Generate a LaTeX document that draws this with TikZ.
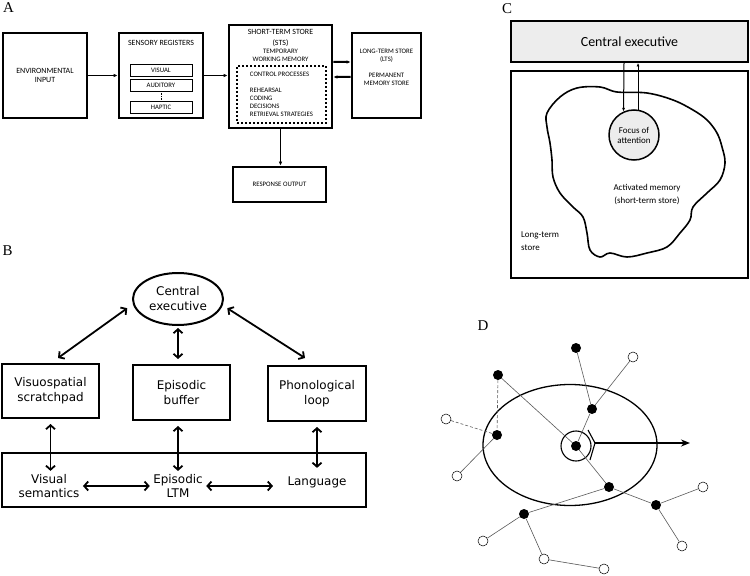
\documentclass[tikz,border=0pt]{standalone}
\usepackage{fontspec}
\setmainfont{Liberation Serif}
\newfontfamily\calibrifont{Carlito}
\newfontfamily\verdanafont{DejaVu Sans}
\usetikzlibrary{arrows,arrows.meta,positioning,shapes.geometric}

\begin{document}
\begin{tikzpicture}[x=1bp,y=-1bp,line join=miter,
    panel/.style={font=\fontsize{15}{15}\selectfont,inner sep=0},
    abox/.style={draw,line width=2.8bp,fill=white,inner sep=0,align=center,font=\calibrifont\fontsize{8}{9.5}\selectfont},
    subbox/.style={draw,line width=0.6bp,minimum width=62bp,minimum height=12bp,inner sep=0,font=\calibrifont\fontsize{6.8}{7}\selectfont},
    atext/.style={align=center,inner sep=0,font=\calibrifont\fontsize{6.8}{8}\selectfont},
    aflow/.style={-{Latex[length=4bp,width=3.6bp]},line width=1.2bp},
    cbox/.style={draw,line width=1.8bp,minimum width=237bp},
    ctext/.style={align=center,inner sep=0,font=\calibrifont\fontsize{9}{12.5}\selectfont},
    cflow/.style={-{Latex[length=3.5bp,width=3bp]},line width=1bp},
    bbox/.style={draw,line width=2bp,inner sep=0,align=center,font=\verdanafont\fontsize{12}{15}\selectfont},
    btext/.style={align=center,font=\verdanafont\fontsize{12}{14}\selectfont},
    bflow/.style={{Straight Barb[length=4bp,width=9bp,line width=1.8bp]}-{Straight Barb[length=4bp,width=9bp,line width=1.8bp]},line width=1.8bp},
    dot/.style={circle,fill=black,inner sep=0,minimum size=10bp},
    odot/.style={circle,draw,fill=white,line width=0.5bp,inner sep=0,minimum size=10bp},
    link/.style={draw=black!65,line width=0.6bp},
  ]
  \useasboundingbox (0,0) rectangle (750,576);

  \node[panel] (la) at (8.5,8) {A};
  \node[panel] (lb) at (7.5,250.5) {B};
  \node[panel] (lc) at (507,8.5) {C};
  \node[panel] (ld) at (483,326) {D};

  \node[abox,minimum width=84bp,minimum height=85bp] (env) at (45,75.5) {ENVIRONMENTAL\\INPUT};
  \node[abox,minimum width=84bp,minimum height=85bp] (sens) at (161,75.5) {};
  \node[atext,font=\calibrifont\fontsize{8}{9}\selectfont,below=8.5bp of sens.north] (senstitle) {SENSORY REGISTERS};
  \node[subbox] (visual)   at (161,70)  {VISUAL};
  \node[subbox] (auditory) at (161,85)  {AUDITORY};
  \node[subbox] (haptic)   at (161,107) {HAPTIC};
  \draw[densely dotted,line width=0.6bp] (auditory) -- (haptic);

  \node[abox,minimum width=103bp,minimum height=103bp] (sts) at (280.5,76.5) {};
  \node[atext,font=\calibrifont\fontsize{8}{11}\selectfont,below=5.5bp of sts.north] (ststitle) {SHORT-TERM STORE\\(STS)};
  \node[atext,below=2bp of ststitle] (stswork) {TEMPORARY\\WORKING MEMORY};
  \node[draw,line width=1.8bp,dash pattern=on 2bp off 2bp,minimum width=89bp,minimum height=57bp,
        inner sep=0,align=left,font=\calibrifont\fontsize{6.8}{8}\selectfont] (control) at (281.5,94.5)
        {CONTROL PROCESSES\\[8bp]REHEARSAL\\CODING\\DECISIONS\\RETRIEVAL STRATEGIES};

  \node[abox,minimum width=69bp,minimum height=85bp] (lts) at (386.5,75.5) {};
  \node[atext] (ltstext) at (386.5,67) {LONG-TERM STORE\\(LTS)\\[8bp]PERMANENT\\MEMORY STORE};
  \node[abox,minimum width=93bp,minimum height=35bp,font=\calibrifont\fontsize{6.8}{8}\selectfont] (resp) at (279.5,184.5) {RESPONSE OUTPUT};

  \draw[aflow] (env) -- (sens);
  \draw[aflow] (sens.east) -- (sens.east -| sts.west);
  \draw[aflow,line width=2bp] ([yshift=14.5bp]sts.east) -- ([yshift=13.5bp]lts.west);
  \draw[aflow,line width=2bp] ([yshift=-1.5bp]lts.west) -- ([yshift=-0.5bp]sts.east);
  \draw[aflow] (sts.south) -- (resp.north -| sts.south);

  \node[cbox,minimum height=41bp,fill=black!7,font=\calibrifont\fontsize{14}{16}\selectfont] (cexec) at (629.5,41.5) {Central executive};
  \node[cbox,minimum height=207bp] (ltstore) at (629.5,174.5) {};
  \draw[line width=1.6bp] plot[smooth cycle,tension=0.6] coordinates {
    (547,113) (560,97) (577,88) (600,87) (617,92) (647,93) (673,100) (693,110)
    (707,120) (717,133) (722,147) (725,163) (720,180) (707,193) (693,207) (690,220)
    (680,233) (667,247) (647,253) (627,257) (610,253) (600,257) (590,250) (587,233)
    (583,217) (573,207) (560,193) (553,177) (552,160) (550,143) (547,127)};
  \node[circle,draw,line width=1.5bp,fill=black!7,minimum size=50bp,inner sep=0,align=center,
        font=\calibrifont\fontsize{9}{10}\selectfont] (focus) at (634,135) {Focus of\\attention};
  \node[ctext] (actmem) at (647,194.5) {Activated memory\\(short-term store)};
  \node[ctext,align=left,anchor=west] (ltlabel) at (521,241) {Long-term\\store};
  \draw[cflow] ([xshift=-5.5bp]cexec.south) -- (focus.114);
  \draw[cflow] (focus.81) -- (focus.81 |- cexec.south);

  \node[draw,ellipse,line width=2bp,minimum width=90bp,minimum height=52bp,inner sep=0,align=center,
        font=\verdanafont\fontsize{12}{15}\selectfont] (cexec2) at (178,299) {Central\\executive};
  \node[bbox,minimum width=97bp,minimum height=54bp] (visuo) at (50.5,391) {Visuospatial\\scratchpad};
  \node[bbox,minimum width=97bp,minimum height=55bp] (epbuf) at (181.5,392.5) {Episodic\\buffer};
  \node[bbox,minimum width=98bp,minimum height=55bp] (phono) at (317,393.5) {Phonological\\loop};
  \node[bbox,minimum width=364bp,minimum height=54bp] (ltm) at (184,480) {};
  \node[btext] (vissem) at (49,486) {Visual\\semantics};
  \node[btext] (epltm) at (178,486) {Episodic\\LTM};
  \node[btext] (lang) at (317,482) {Language};

  \draw[bflow] ([xshift=-7.5bp]cexec2.192) -- ([xshift=7.5bp,yshift=5bp]visuo.north);
  \draw[bflow] ([xshift=6bp]cexec2.348) -- ([xshift=-12bp,yshift=7bp]phono.north);
  \draw[bflow,shorten <=2bp,shorten >=5bp] (cexec2.south) -- (cexec2.south |- epbuf.north);
  \draw[bflow,shorten <=5bp] (visuo.south) -- (visuo.south |- vissem.north);
  \draw[bflow,shorten <=5bp] (epltm.north |- epbuf.south) -- (epltm.north);
  \draw[bflow,shorten <=5bp] (lang.north |- phono.south) -- ([yshift=5bp]lang.north);
  \draw[bflow] (vissem.east) -- (epltm.west);
  \draw[bflow,shorten >=11bp] (epltm.east) -- (epltm.east -| lang.west);

  \node[draw,ellipse,line width=1.3bp,minimum width=174bp,minimum height=121bp] (field) at (570,445) {};
  \node[circle,draw,line width=1.1bp,minimum size=30bp,inner sep=0] (cur) at (576,446) {};
  \node[dot] (n1) at (576,348) {};
  \node[dot] (n2) at (498,375) {};
  \node[dot] (n3) at (592,409) {};
  \node[dot] (n4) at (497,435) {};
  \node[dot] (n5) at (576,446) {};
  \node[dot] (n6) at (609,487) {};
  \node[dot] (n7) at (656,505) {};
  \node[dot] (n8) at (524,514) {};
  \node[odot] (o1) at (633,357) {};
  \node[odot] (o2) at (446,419) {};
  \node[odot] (o3) at (457,476) {};
  \node[odot] (o4) at (703,487) {};
  \node[odot] (o5) at (682,546) {};
  \node[odot] (o6) at (483,541) {};
  \node[odot] (o7) at (544,559) {};
  \node[odot] (o8) at (604,569) {};
  \coordinate (tail) at (595,443);
  \coordinate (goal) at (690,443);

  \path[link] (n1) edge (n3)
              (o1) edge (n3)
              (n3) edge (n5)
              (n2) edge (n5)
              (n2) edge[densely dashed] (n4)
              (o2) edge[densely dashed] (n4)
              (n4) edge (o3)
              (n5) edge (n6)
              (n6) edge (n7)
              (n6) edge (n8)
              (n7) edge (o4)
              (n7) edge (o5)
              (n8) edge (o6)
              (n8) edge (o7)
              (o7) edge (o8);
  \draw[line width=1.1bp] ([shift={(-7bp,13bp)}]tail) -- (tail) -- ([shift={(-5bp,-17bp)}]tail);
  \draw[line width=1.5bp,-{Stealth[length=9bp,width=7bp]}] (tail) -- (goal);
\end{tikzpicture}
\end{document}
